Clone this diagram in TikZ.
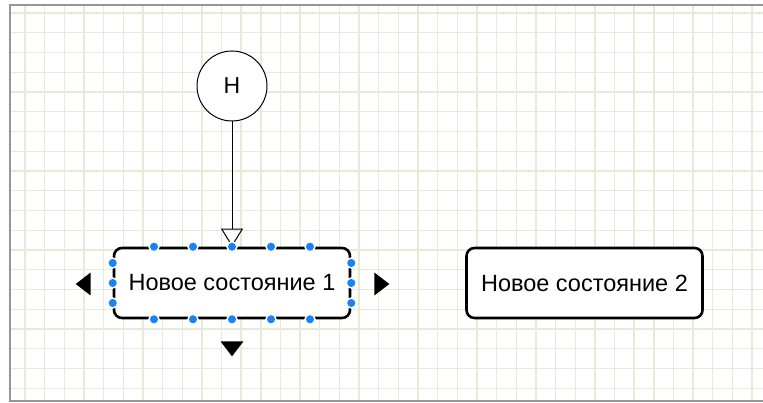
\documentclass[tikz,border=0pt]{standalone}
\usepackage{fontspec}
\setmainfont{Liberation Sans}
\usetikzlibrary{arrows.meta,shapes.geometric}
\definecolor{gridgreen}{RGB}{228,236,216}
\definecolor{handleblue}{RGB}{25,130,250}
\definecolor{framegray}{RGB}{150,150,150}

\begin{document}
\begin{tikzpicture}[x=1pt, y=-1pt, >={Triangle[open, length=18pt, width=22pt]},
    state/.style={draw, line width=2.6pt, rounded corners=8pt, fill=white, minimum width=236pt, minimum height=70pt, inner sep=0pt, font=\fontsize{23.5}{28}\selectfont},
    hist/.style={circle, draw, line width=1pt, fill=white, minimum size=70pt, inner sep=0pt, font=\fontsize{23}{28}\selectfont},
    handle/.style={circle, fill=handleblue, draw=white, line width=1.5pt, minimum size=10pt, inner sep=0pt},
    pointer/.style={isosceles triangle, isosceles triangle stretches, fill=black, minimum height=15pt, minimum width=23pt, inner sep=0pt}]

    \useasboundingbox (0,0) rectangle (763,403);

    % grid
    \foreach \i in {0,...,37}
        \draw[gridgreen, line width=1.4pt] (25+19.65*\i,6) -- (25+19.65*\i,400);
    \foreach \j in {0,...,19}
        \draw[gridgreen, line width=1.4pt] (11,13+19.75*\j) -- (763,13+19.75*\j);

    % frame
    \draw[framegray, line width=2pt] (763,5) -- (10,5) -- (10,401) -- (763,401);

    \node[hist] (hist) at (232,86) {H};
    \node[state] (st1) at (232,283) {Новое состояние 1};
    \node[state] (st2) at (584.5,283) {Новое состояние 2};

    % hist -> st1
    \draw[->, line width=1pt] (hist.south) -- (st1.north);

    % selection handles on st1
    \foreach \dx [count=\k] in {-78,-39,0,39,78} {
        \node[handle] (top\k) at ([xshift=\dx pt]st1.north) {};
        \node[handle] (bot\k) at ([xshift=\dx pt]st1.south) {};
    }
    \foreach \dy [count=\k] in {20,0,-20} {
        \node[handle] (lft\k) at ([yshift=\dy pt]st1.west) {};
        \node[handle] (rgt\k) at ([yshift=\dy pt]st1.east) {};
    }

    % pointers around st1
    \node[pointer, shape border rotate=180] (pl) at (85,284) {};
    \node[pointer] (pr) at (380,284) {};
    \node[pointer, shape border rotate=-90] (pd) at (232,347) {};
\end{tikzpicture}
\end{document}
